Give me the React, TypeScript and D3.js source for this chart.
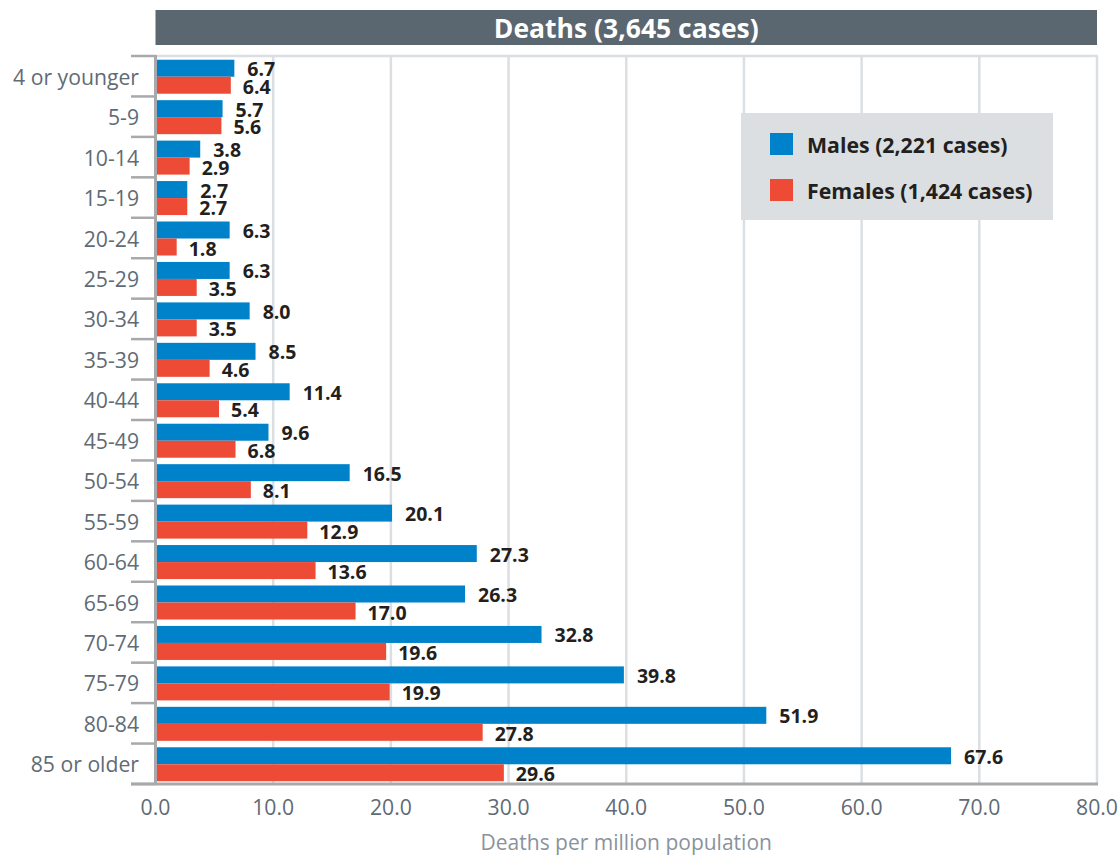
import React from "react";
import * as d3 from "d3";

const categories = ["4 or younger","5-9","10-14","15-19","20-24","25-29","30-34","35-39","40-44","45-49","50-54","55-59","60-64","65-69","70-74","75-79","80-84","85 or older"];
const males = [6.7,5.7,3.8,2.7,6.3,6.3,8.0,8.5,11.4,9.6,16.5,20.1,27.3,26.3,32.8,39.8,51.9,67.6];
const females = [6.4,5.6,2.9,2.7,1.8,3.5,3.5,4.6,5.4,6.8,8.1,12.9,13.6,17.0,19.6,19.9,27.8,29.6];
const xTicks = [0,10,20,30,40,50,60,70,80];
const title = "Deaths (3,645 cases)";
const xTitle = "Deaths per million population";
const legendLabels = ["Males (2,221 cases)", "Females (1,424 cases)"];

const BLUE = "#0082ca";
const RED = "#ee4b37";
const FONT = "'Open Sans', sans-serif";

export default function App() {
  const W = 1119, H = 857;
  const left = 155.5, right = 1097, top = 56, bottom = 784;
  const x = d3.scaleLinear().domain([0, 80]).range([left, right]);
  const y = d3.scaleBand().domain(categories).range([top, bottom]).paddingInner(0).paddingOuter(0);
  const bw = y.bandwidth();
  const barH = 17;
  const pad = (bw - 2 * barH) / 2;
  return (
    <svg width={W} height={H} style={{ position: "absolute", left: 0, top: 0, fontFamily: FONT }}>
      <rect x={x(0)} y={10} width={x(80) - x(0)} height={35} fill="#5a6670" />
      <text x={(x(0) + x(80)) / 2} y={27.5} fill="#fff" fontSize={26.5} fontWeight={700} textAnchor="middle" dominantBaseline="central">{title}</text>
      {/* gridlines */}
      {xTicks.slice(1).map(t => (
        <line key={t} x1={x(t)} x2={x(t)} y1={top} y2={bottom} stroke="#dcdfe2" strokeWidth={2.5} />
      ))}
      <line x1={left} x2={right + 1} y1={top} y2={top} stroke="#dcdfe2" strokeWidth={2.5} />
      {/* legend */}
      <rect x={741} y={113} width={312} height={107} fill="#dcdfe2" />
      {legendLabels.map((l, i) => (
        <g key={l}>
          <rect x={770} y={133 + i * 46} width={23} height={22} fill={i === 0 ? BLUE : RED} />
          <text x={807} y={144 + i * 46} fontSize={21.3} fontWeight={700} fill="#231f20" dominantBaseline="central">{l}</text>
        </g>
      ))}
      {/* bars */}
      {categories.map((c, i) => {
        const y0 = (y(c) as number) + pad + 0.5;
        return (
          <g key={c}>
            <rect x={x(0) + 1.5} y={y0} width={x(males[i]) - x(0) - 1.5} height={barH} fill={BLUE} />
            <rect x={x(0) + 1.5} y={y0 + barH} width={x(females[i]) - x(0) - 1.5} height={barH} fill={RED} />
            <text x={x(males[i]) + 13} y={y0 + barH / 2 + 0.5} fontSize={19.5} fontWeight={700} fill="#231f20" dominantBaseline="central">{males[i].toFixed(1)}</text>
            <text x={x(females[i]) + 12} y={y0 + barH * 1.5 + 1} fontSize={19.5} fontWeight={700} fill="#231f20" dominantBaseline="central">{females[i].toFixed(1)}</text>
            <text x={139} y={(y(c) as number) + bw / 2} fontSize={21.2} fill="#5f6b75" textAnchor="end" dominantBaseline="central">{c}</text>
          </g>
        );
      })}
      {/* y axis ticks */}
      {categories.concat(["__end"]).map((c, i) => {
        const yy = top + i * bw;
        return <line key={i} x1={131} x2={left} y1={yy} y2={yy} stroke="#a7a9ac" strokeWidth={2.5} />;
      })}
      <line x1={left} x2={left} y1={top - 1} y2={bottom + 1} stroke="#a7a9ac" strokeWidth={3} />
      <line x1={131} x2={right + 1} y1={bottom} y2={bottom} stroke="#a7a9ac" strokeWidth={3} />
      {xTicks.map(t => (
        <text key={t} x={x(t)} y={806} fontSize={21.2} fill="#5f6b75" textAnchor="middle" dominantBaseline="central">{t.toFixed(1)}</text>
      ))}
      <text x={(x(0) + x(80)) / 2} y={842} fontSize={21} fill="#8a939b" textAnchor="middle" dominantBaseline="central">{xTitle}</text>
    </svg>
  );
}
